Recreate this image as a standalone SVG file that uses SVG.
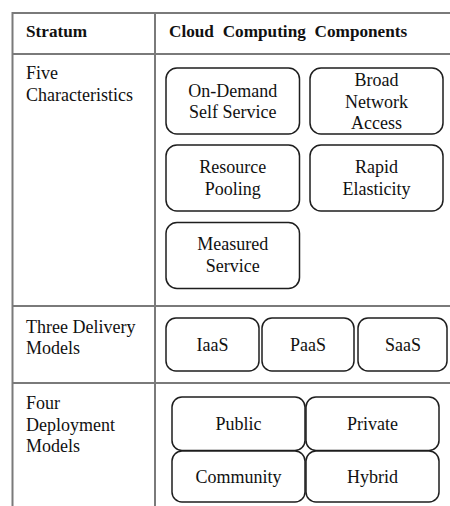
<svg xmlns="http://www.w3.org/2000/svg" width="450" height="506" viewBox="0 0 450 506" font-family="Liberation Serif, serif" font-size="18">
  <style>
    .grid { stroke: #7a7a7a; stroke-width: 2; fill: none; }
    .box { fill: #ffffff; stroke: #1e1e1e; stroke-width: 1.5; }
    .hd { font-weight: bold; font-size: 17.2px; }
    .c { text-anchor: middle; }
  </style>
  <rect width="450" height="506" fill="#ffffff"/>

  <!-- table rules -->
  <g id="table">
    <line class="grid" x1="12.5" y1="13" x2="450" y2="13"/>
    <line class="grid" x1="12.5" y1="54" x2="450" y2="54"/>
    <line class="grid" x1="12.5" y1="306" x2="450" y2="306"/>
    <line class="grid" x1="12.5" y1="383" x2="450" y2="383"/>
    <line class="grid" x1="12.5" y1="12" x2="12.5" y2="506"/>
    <line class="grid" x1="155" y1="12" x2="155" y2="506"/>
  </g>

  <!-- header -->
  <g id="header" fill="#111">
    <text class="hd" x="26" y="37">Stratum</text>
    <text class="hd" x="169" y="37" word-spacing="4.5">Cloud Computing Components</text>
  </g>

  <!-- row labels -->
  <g id="labels" fill="#111">
    <text x="26" y="79">Five</text>
    <text x="26" y="100.5">Characteristics</text>
    <text x="26" y="332.5">Three Delivery</text>
    <text x="26" y="354">Models</text>
    <text x="26" y="409">Four</text>
    <text x="26" y="430.5">Deployment</text>
    <text x="26" y="452">Models</text>
  </g>

  <!-- five characteristics -->
  <g id="on-demand" fill="#111">
    <rect class="box" x="166" y="68" width="133.5" height="66" rx="11"/>
    <text class="c" x="232.75" y="96.5">On-Demand</text>
    <text class="c" x="232.75" y="118">Self Service</text>
  </g>
  <g id="broad-network" fill="#111">
    <rect class="box" x="310" y="68" width="133" height="66" rx="11"/>
    <text class="c" x="376.5" y="86">Broad</text>
    <text class="c" x="376.5" y="107.5">Network</text>
    <text class="c" x="376.5" y="129">Access</text>
  </g>
  <g id="resource-pooling" fill="#111">
    <rect class="box" x="166" y="145" width="133.5" height="66" rx="11"/>
    <text class="c" x="232.75" y="173">Resource</text>
    <text class="c" x="232.75" y="194.5">Pooling</text>
  </g>
  <g id="rapid-elasticity" fill="#111">
    <rect class="box" x="310" y="145" width="133" height="66" rx="11"/>
    <text class="c" x="376.5" y="173">Rapid</text>
    <text class="c" x="376.5" y="194.5">Elasticity</text>
  </g>
  <g id="measured-service" fill="#111">
    <rect class="box" x="166" y="222.5" width="133.5" height="66" rx="11"/>
    <text class="c" x="232.75" y="250">Measured</text>
    <text class="c" x="232.75" y="271.5">Service</text>
  </g>

  <!-- delivery models -->
  <g id="iaas" fill="#111">
    <rect class="box" x="166" y="318" width="93" height="53" rx="10"/>
    <text class="c" x="212.5" y="350.5">IaaS</text>
  </g>
  <g id="paas" fill="#111">
    <rect class="box" x="262" y="318" width="92" height="53" rx="10"/>
    <text class="c" x="308" y="350.5">PaaS</text>
  </g>
  <g id="saas" fill="#111">
    <rect class="box" x="358" y="318" width="89" height="53" rx="10"/>
    <text class="c" x="403" y="350.5">SaaS</text>
  </g>

  <!-- deployment models -->
  <g id="public" fill="#111">
    <rect class="box" x="172" y="397" width="133" height="53.5" rx="10"/>
    <text class="c" x="238.5" y="429.5">Public</text>
  </g>
  <g id="private" fill="#111">
    <rect class="box" x="306" y="397" width="133" height="53.5" rx="10"/>
    <text class="c" x="372.5" y="429.5">Private</text>
  </g>
  <g id="community" fill="#111">
    <rect class="box" x="172" y="451" width="133" height="51" rx="10"/>
    <text class="c" x="238.5" y="483">Community</text>
  </g>
  <g id="hybrid" fill="#111">
    <rect class="box" x="306" y="451" width="133" height="51" rx="10"/>
    <text class="c" x="372.5" y="483">Hybrid</text>
  </g>

  <g id="connectors"/>
</svg>
